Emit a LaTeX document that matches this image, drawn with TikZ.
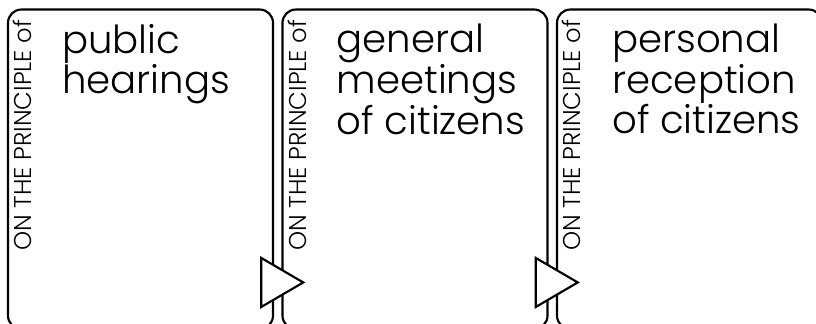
\documentclass[tikz,border=0pt]{standalone}
\usepackage{fontspec}
\setmainfont{Poppins}[UprightFont={* Light}]
\usetikzlibrary{positioning,shapes.geometric}

\begin{document}
\begin{tikzpicture}[x=0.75pt,y=-0.75pt,node distance=205.875pt,on grid,
  card/.style={draw,line width=1.6pt,rounded corners=10pt,minimum width=198.75pt,minimum height=239.6pt},
  side/.style={rotate=90,anchor=base west,inner sep=0pt,font=\fontsize{18.2}{18.2}\selectfont},
  title/.style={anchor=north west,align=left,inner sep=0pt,font=\fontsize{29}{27}\selectfont},
  pointer/.style={isosceles triangle,isosceles triangle stretches,draw,fill=white,line width=1.6pt,inner sep=0pt,
    minimum height=31.5pt,minimum width=36.75pt,anchor=apex}]
  \useasboundingbox (0,0) rectangle (816,324);
  \clip (0,0) rectangle (816,324);
  \node[card] (pub) at (140.5,169.25) {};
  \node[card] (gen) [right=of pub] {};
  \node[card] (pers) [right=of gen] {};
  \node[side] (pubside) at ([shift={(25,242.5)}]pub.north west) {ON THE PRINCIPLE of};
  \node[side] (genside) at ([shift={(25,242.5)}]gen.north west) {ON THE PRINCIPLE of};
  \node[side] (persside) at ([shift={(25,242.5)}]pers.north west) {ON THE PRINCIPLE of};
  \node[title] (pubtitle) at ([shift={(55,15.5)}]pub.north west) {public\\hearings};
  \node[title] (gentitle) at ([shift={(55,15.5)}]gen.north west) {general\\meetings\\of citizens};
  \node[title] (perstitle) at ([shift={(56,15.5)}]pers.north west) {personal\\reception\\of citizens};
  \node[pointer] (pubptr) at ([shift={(32,274)}]pub.north east) {};
  \node[pointer] (genptr) at ([shift={(32,274)}]gen.north east) {};
\end{tikzpicture}
\end{document}
